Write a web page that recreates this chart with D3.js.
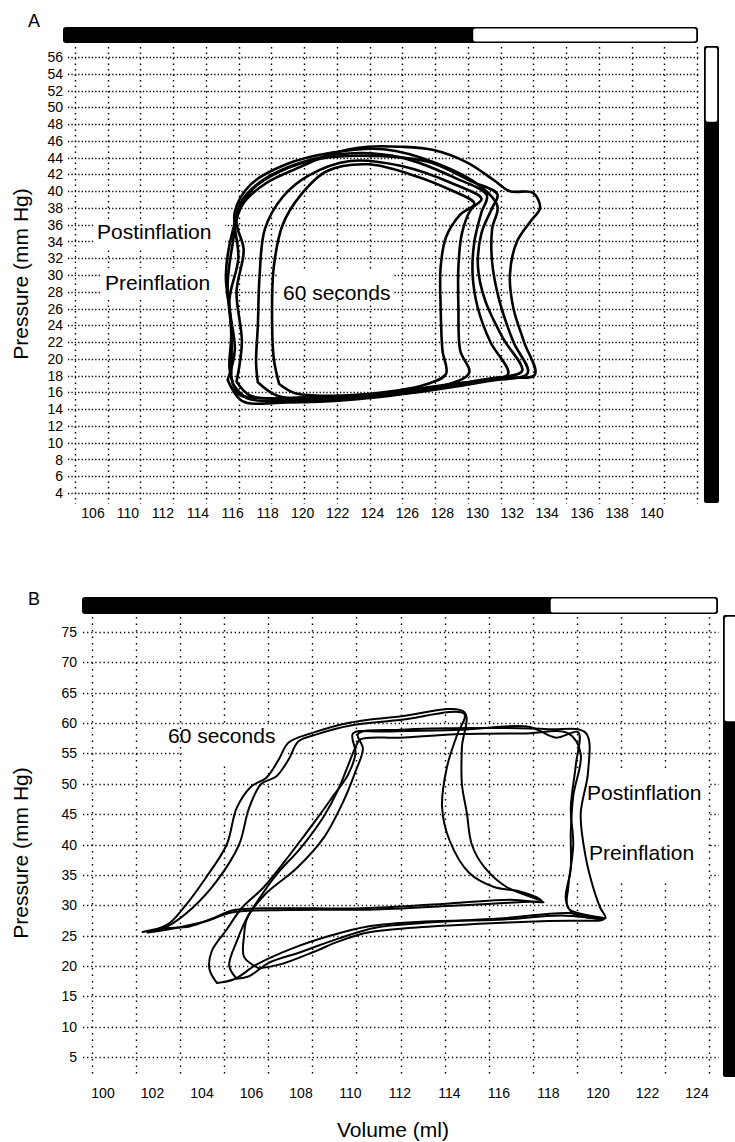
<!DOCTYPE html>
<html><head><meta charset="utf-8">
<script src="https://cdn.jsdelivr.net/npm/d3@7"></script>
<style>html,body{margin:0;padding:0;background:#fff}svg{display:block}</style>
</head><body><svg id="c" width="735" height="1142"></svg>
<script>
// ---------------- DATA ----------------
// Panel A
const yTicksA = [4,6,8,10,12,14,16,18,20,22,24,26,28,30,32,34,36,38,40,42,44,46,48,50,52,54,56];
const xTickLabelsA = ["106","110","112","114","116","118","120","122","124","126","128","130","132","134","136","138","140"];
const timerFillA = 0.646;   // fraction of top bar filled
const levelFillA = 0.834;   // fraction of side bar filled (from bottom)
const loopA1 = [[118.6,17.0],[119.5,15.9],[121.5,15.6],[124.5,16.0],[126.8,16.9],[128.0,18.2],[127.8,21],[127.7,26],[127.7,31],[128.0,34.5],[128.8,37.2],[129.6,38.5],[128.2,40.2],[126,42],[123.6,43.2],[121.3,42.4],[119.8,39.5],[118.8,36],[118.3,31],[118.2,25],[118.3,20],[118.6,17.0]];
const loopA2 = [[117.4,17.2],[118.5,15.6],[121,15.2],[124.5,15.6],[127.5,16.6],[129.3,18.3],[128.8,21],[128.7,26],[128.7,31],[128.9,35],[129.4,37.8],[130.0,39.1],[128.5,40.8],[125.5,43],[122.6,43.6],[120.3,41.9],[118.8,39.3],[117.8,35.5],[117.5,30],[117.4,24],[117.3,19.5],[117.4,17.2]];
const loopA3 = [[116.0,17.0],[116.8,15.3],[119,15.0],[123,15.3],[127,16.3],[130,17.4],[131.5,18.2],[130.5,22],[129.8,26],[129.5,30],[129.6,34],[130.0,37.5],[130.3,39.5],[128.6,41.5],[125.5,44.0],[122.5,44.5],[119.8,43.4],[117.6,41.2],[116.4,38.5],[116.0,34],[115.7,29],[115.9,23],[115.8,19],[116.0,17.0]];
const loopA4 = [[115.7,17.5],[116.5,15.0],[119,14.8],[123,15.2],[127,16.2],[130.5,17.4],[132.6,18.3],[131.8,22],[131.0,27],[130.6,31.5],[130.6,35.5],[130.9,38.2],[130.0,40.5],[127.5,43.3],[124.5,45.0],[121.6,44.6],[119,43.2],[117,40.8],[116.1,37.5],[116.3,32],[115.8,27],[116.1,21],[115.7,17.5]];
const loopA5 = [[115.9,18],[116.3,15.8],[118,15.3],[121.6,15.4],[127.3,16.6],[131,17.8],[133.0,18.1],[132.4,22],[131.8,26],[131.6,30],[132.0,34],[132.8,36.5],[133.3,38],[132.9,39.8],[131.6,40],[130.7,41.3],[129.2,43.4],[127.3,44.9],[125.4,45.3],[123.6,45.3],[121.6,44.5],[119.8,42.9],[117.9,41],[116.6,38.6],[116,35.4],[115.6,30],[115.9,24],[115.9,18]];
const loopA6 = [[116.2,17.3],[117,15.6],[120,15.4],[124,15.8],[128,16.9],[131.5,17.9],[132.3,18.6],[131.2,22.5],[130.2,27],[129.8,31],[130.0,35],[130.6,38],[130.9,39.6],[129.4,41.2],[127,43.5],[124,44.2],[121,43.9],[118.6,42.3],[117,40],[116.2,36.5],[116.6,33],[116.2,28],[116.5,22],[116.2,17.3]];

// Panel B
const yTicksB = [5,10,15,20,25,30,35,40,45,50,55,60,65,70,75];
const xTicksB = [100,102,104,106,108,110,112,114,116,118,120,122,124];
const timerFillB = 0.737;
const levelFillB = 0.77;
const loopB60a = [[101.6,25.6],[102.5,26.2],[103.5,26.5],[104.4,27.8],[105.3,29.2],[107,29.5],[110.5,29.5],[114,30.3],[116.5,30.9],[117.8,30.5],[116.3,33],[115.4,36.3],[114.9,40],[114.7,45.2],[114.5,50],[114.5,56],[114.6,61.8],[112,61.1],[110,60.1],[108.4,58.3],[107.5,56.8],[107.1,54],[106.6,51],[106,49.6],[105.4,46],[105.0,40],[104.1,34.2],[103.3,29.8],[102.6,26.8],[101.6,25.6]];
const loopB60b = [[101.8,25.5],[103,26.3],[104.2,27.4],[105.2,28.8],[107.5,29.2],[111,29.3],[114.5,30.0],[116.8,30.5],[117.7,30.8],[116.8,32.3],[115.8,33],[114.8,35.3],[114,40.7],[113.7,46.2],[113.9,52.8],[114.3,58],[114.6,61.5],[112,60.5],[110,59.6],[108.6,58.1],[107.9,57],[107.5,54],[107,51.2],[106.4,50],[105.9,46],[105.5,40],[104.6,34],[103.6,29.5],[102.6,26.5],[101.8,25.5]];
const loopBP1 = [[104.6,17.2],[104.3,19.5],[104.4,22.5],[105.0,26],[105.6,29.5],[106.5,33],[107.6,38.6],[108.6,44],[109.3,48],[109.9,51.5],[110.2,55],[110.1,58.3],[111.3,58.6],[114.5,58.9],[117.2,59.4],[118.3,57.6],[119.2,58.5],[119.1,53],[118.9,46],[119.0,40],[118.8,33],[118.8,29.5],[120.3,27.8],[118.5,28.3],[116,27.6],[113,27.3],[110.7,26.5],[109.2,25],[107.6,22.8],[106.2,20.2],[105.3,17.8],[104.6,17.2]];
const loopBP2 = [[105.4,17.9],[105.1,20],[105.4,24],[105.9,28.5],[106.6,32],[107.8,36],[108.9,41],[109.7,47],[110.2,52],[110.5,55.8],[110.3,58.2],[112,58.9],[115,59.2],[118,59.0],[119.5,58.4],[119.6,52],[119.3,45],[119.5,38],[119.8,33],[120.1,29.5],[120.3,27.9],[118.8,28.7],[116,27.8],[113,27.1],[111,26.3],[109.5,24.5],[108.0,22.3],[106.7,20.5],[105.9,18.3],[105.4,17.9]];
const loopBP3 = [[106.3,19.6],[105.7,21.5],[105.7,25],[105.8,27.6],[106.3,31],[107,35],[108,39.5],[108.9,44.5],[109.5,49],[109.9,53],[110.2,56],[110.4,57.3],[112,57.6],[114.5,58.2],[117,58.3],[118.8,58.3],[119.3,55],[119.0,48],[118.9,42],[118.9,36],[118.7,31],[119.0,28.6],[120.2,27.6],[118,27.4],[115,26.9],[112.5,26.3],[110.7,25.5],[109.5,24],[108.5,22.3],[107.2,20.3],[106.3,19.6]];

// ---------------- DRAWING ----------------
const FONT = "'Liberation Sans', Arial, Helvetica, sans-serif";
const svg = d3.select("#c");
svg.append("rect").attr("width",735).attr("height",1142).attr("fill","#fff");

function drawPanel(cfg){
  const g = svg.append("g");
  const x = cfg.x, y = cfg.y;
  // horizontal grid
  g.selectAll(null).data(cfg.yTicks).join("line")
    .attr("x1",cfg.hGrid[0]).attr("x2",cfg.hGrid[1])
    .attr("y1",d=>Math.round(y(d))+0.5).attr("y2",d=>Math.round(y(d))+0.5)
    .attr("stroke","#000").attr("stroke-width",1.3).attr("stroke-dasharray",cfg.hDash);
  // vertical grid
  const gs = d3.scaleLinear().domain([0,cfg.vGridN-1]).range(cfg.vGridRange);
  g.selectAll(null).data(d3.range(cfg.vGridN)).join("line")
    .attr("x1",d=>Math.round(gs(d))+0.5).attr("x2",d=>Math.round(gs(d))+0.5)
    .attr("y1",cfg.vGridY[0]).attr("y2",cfg.vGridY[1])
    .attr("stroke","#000").attr("stroke-width",1.4).attr("stroke-dasharray",cfg.vDash);
  // white label boxes
  cfg.boxes.forEach(b=>g.append("rect").attr("x",b[0]).attr("y",b[1]).attr("width",b[2]).attr("height",b[3]).attr("fill","#fff"));
  // y tick labels
  g.selectAll(null).data(cfg.yTicks).join("text")
    .attr("x",cfg.yLabelX).attr("y",d=>y(d)).attr("dy","0.36em")
    .attr("text-anchor","end").attr("font-family",FONT).attr("font-size",14).attr("fill","#000")
    .text(d=>d);
  // x tick labels
  g.selectAll(null).data(cfg.xLabels).join("text")
    .attr("x",d=>cfg.xLabelScale(d)).attr("y",cfg.xLabelY)
    .attr("text-anchor","middle").attr("font-family",FONT).attr("font-size",14).attr("fill","#000")
    .text(d=>d);
  // top timer bar
  const tb = cfg.topBar;
  const ts = d3.scaleLinear().domain([0,1]).range([tb.x0,tb.x1]);
  g.append("rect").attr("x",tb.x0).attr("y",tb.y).attr("width",tb.x1-tb.x0).attr("height",tb.h)
    .attr("rx",3).attr("fill","#000");
  g.append("rect").attr("x",ts(tb.fill)).attr("y",tb.y+1.6).attr("width",tb.x1-ts(tb.fill)-1.8).attr("height",tb.h-3.2)
    .attr("rx",2).attr("fill","#fff");
  // side bar
  const sb = cfg.sideBar;
  const ss = d3.scaleLinear().domain([0,1]).range([sb.y1,sb.y0]);
  g.append("rect").attr("x",sb.x).attr("y",sb.y0).attr("width",sb.w).attr("height",sb.y1-sb.y0)
    .attr("rx",2).attr("fill","#000");
  g.append("rect").attr("x",sb.x+1.8).attr("y",sb.y0+1.8).attr("width",sb.w-3.6).attr("height",ss(sb.fill)-sb.y0-1.8)
    .attr("rx",2).attr("fill","#fff");
  // loops
  const line = d3.line().x(d=>x(d[0])).y(d=>y(d[1])).curve(d3.curveCatmullRom.alpha(0.5));
  g.selectAll(null).data(cfg.loops).join("path")
    .attr("d",line).attr("fill","none").attr("stroke","#000")
    .attr("stroke-width",cfg.strokeW).attr("stroke-linejoin","round").attr("stroke-linecap","round");
  // annotations
  cfg.notes.forEach(n=>g.append("text").attr("x",n.x).attr("y",n.y)
    .attr("font-family",FONT).attr("font-size",21).attr("fill","#000").text(n.t));
  // panel letter
  g.append("text").attr("x",cfg.letter[1]).attr("y",cfg.letter[2])
    .attr("font-family",FONT).attr("font-size",18).attr("fill","#000").text(cfg.letter[0]);
  // y title
  g.append("text").attr("transform",`translate(${cfg.yTitle[0]},${cfg.yTitle[1]}) rotate(-90)`)
    .attr("text-anchor","middle").attr("dy","0.35em")
    .attr("font-family",FONT).attr("font-size",21).attr("fill","#000").text("Pressure (mm Hg)");
}

drawPanel({
  x: d3.scaleLinear().domain([110,140]).range([126.5,659]),
  y: d3.scaleLinear().domain([4,56]).range([493,57]),
  yTicks: yTicksA, yLabelX: 63,
  xLabels: xTickLabelsA, xLabelScale: d3.scalePoint().domain(xTickLabelsA).range([93,652]), xLabelY: 518,
  hGrid:[68,699], hDash:"1.3,2.1",
  vGridN:20, vGridRange:[75,697], vGridY:[47,504], vDash:"1.5,4",
  topBar:{x0:63,x1:698,y:27,h:16,fill:timerFillA},
  sideBar:{x:704,w:15,y0:46,y1:503,fill:levelFillA},
  boxes:[[95,219,130,30],[100,268,125,31],[277,269,117,31]],
  loops:[loopA1,loopA2,loopA3,loopA4,loopA5,loopA6], strokeW:2.6,
  notes:[{t:"Postinflation",x:97,y:239},{t:"Preinflation",x:105,y:290},{t:"60 seconds",x:283,y:300}],
  letter:["A",28,27], yTitle:[21,274]
});

drawPanel({
  x: d3.scaleLinear().domain([100,124]).range([103,697]),
  y: d3.scaleLinear().domain([5,75]).range([1057,632]),
  yTicks: yTicksB, yLabelX: 77,
  xLabels: xTicksB, xLabelScale: d3.scaleLinear().domain([100,124]).range([103,697]), xLabelY: 1098,
  hGrid:[83,719], hDash:"1.3,2.8",
  vGridN:15, vGridRange:[92,709], vGridY:[617,1078], vDash:"1.5,5",
  topBar:{x0:82,x1:718,y:597,h:17,fill:timerFillB},
  sideBar:{x:723,w:17,y0:615,y1:1077,fill:levelFillB},
  boxes:[[182,726,105,38],[565,770,143,110]],
  loops:[loopB60a,loopB60b,loopBP1,loopBP2,loopBP3], strokeW:2.0,
  notes:[{t:"60 seconds",x:168,y:743},{t:"Postinflation",x:587,y:800},{t:"Preinflation",x:589,y:860}],
  letter:["B",28,605], yTitle:[21,853]
});

svg.append("text").attr("x",393).attr("y",1137).attr("text-anchor","middle")
  .attr("font-family",FONT).attr("font-size",21).attr("fill","#000").text("Volume (ml)");
</script>
</body></html>
